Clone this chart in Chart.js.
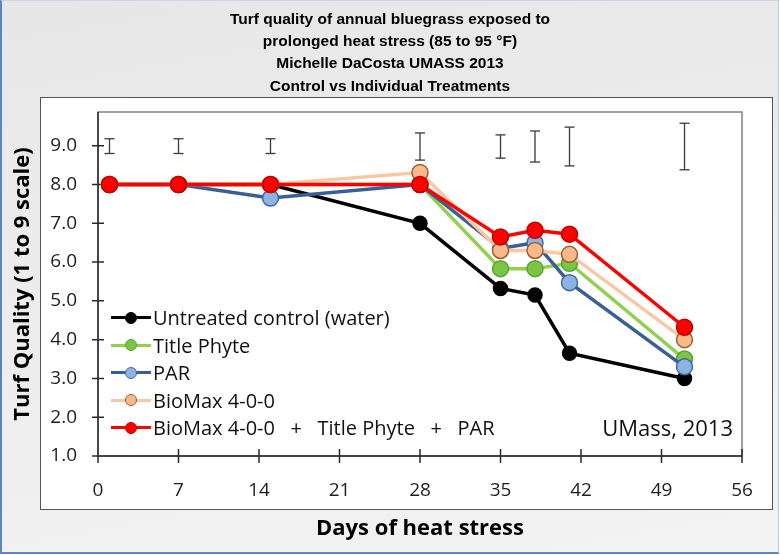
<!DOCTYPE html>
<html>
<head>
<meta charset="utf-8">
<script src="https://cdn.jsdelivr.net/npm/chart.js@4.4.0/dist/chart.umd.min.js"></script>
<style>
  body { margin: 0; }
  #slide {
    position: relative; width: 776px; height: 551px; overflow: hidden;
    background: linear-gradient(170deg, #e7e7e7 0%, #eeeeee 60%, #f3f3f3 100%);
    border-left: 2px solid #5a84c6; border-bottom: 2px solid #5a84c6;
    border-top: 1px solid #c9d6ea; border-right: 1px solid #b8cce4;
  }
  #box {
    position: absolute; left: 38px; top: 96px; width: 731px; height: 411px;
    background: #fff; border: 1.5px solid #555;
  }
  #c { position: absolute; left: -2px; top: -1px; }
  #legend {
    position: absolute; left: 109px; top: 303px;
    font: 20px "Open Sans", sans-serif; color: #111;
  }
  .row { display: flex; align-items: center; height: 27.5px; white-space: pre; }
  .sample { position: relative; width: 40px; height: 14px; margin-right: 2px; }
  .sample .ln { position: absolute; left: 0; right: 0; top: 5.5px; height: 3px; }
  .sample .dot { position: absolute; left: 14px; top: 1px; width: 10px; height: 10px; border-radius: 50%; border: 1px solid; }
  #note {
    position: absolute; right: 45px; top: 411px; line-height: 30px;
    font: 22px "Open Sans", sans-serif; color: #111;
  }
</style>
</head>
<body>
<div id="slide">
  <div id="box"></div>
  <canvas id="c" width="780" height="555"></canvas>
  <div id="legend"></div>
  <div id="note">UMass, 2013</div>
</div>
<script>
// days of heat stress
const days = [1, 7, 15, 28, 35, 38, 41, 51];

// turf quality (1 to 9 scale)
const control = [8.0, 8.0, 8.0, 7.0, 5.32, 5.15, 3.65, 3.0];
const titlePhyte = [8.0, 8.0, 8.0, 8.0, 5.83, 5.83, 5.97, 3.5];
const par = [8.0, 8.0, 7.65, 8.0, 6.35, 6.5, 5.47, 3.3];
const bioMax = [8.0, 8.0, 8.0, 8.31, 6.3, 6.3, 6.2, 4.0];
const combo = [8.0, 8.0, 8.0, 8.0, 6.65, 6.82, 6.72, 4.32];

// LSD bars drawn along the top
const lsdLow = [8.8, 8.8, 8.8, 8.63, 8.68, 8.58, 8.48, 8.38];
const lsdHigh = [9.18, 9.18, 9.18, 9.33, 9.28, 9.38, 9.48, 9.58];

const xTicks = [0, 7, 14, 21, 28, 35, 42, 49, 56];
const yTicks = [1, 2, 3, 4, 5, 6, 7, 8, 9];

const seriesNames = [
  'Untreated control (water)',
  'Title Phyte',
  'PAR',
  'BioMax 4-0-0',
  'BioMax 4-0-0   +   Title Phyte   +   PAR'
];
const seriesValues = [control, titlePhyte, par, bioMax, combo];
const lineColors = ['#000000', '#92d050', '#3a5f94', '#f8c8a6', '#ff0000'];
const fillColors = ['#000000', '#7cc444', '#8db3e2', '#f6b98b', '#ff0000'];
const edgeColors = ['#000000', '#56a630', '#3d69a3', '#9c5f30', '#c00000'];

const toPoints = (vals) => days.map((d, i) => ({ x: d, y: vals[i] }));

const datasets = seriesValues.map((vals, i) => ({
  label: seriesNames[i],
  data: toPoints(vals),
  borderColor: lineColors[i],
  backgroundColor: fillColors[i],
  pointBackgroundColor: fillColors[i],
  pointBorderColor: edgeColors[i],
  borderWidth: 3.5,
  pointRadius: i === 0 ? 7 : 8,
  pointBorderWidth: 1.5,
  order: 5 - i
}));

// error bars: pairs of points split by gaps, caps come from the 'line' point style
const lsdData = [];
days.forEach((d, i) => {
  lsdData.push({ x: d, y: lsdLow[i] }, { x: d, y: lsdHigh[i] }, { x: d, y: null });
});
datasets.push({
  label: 'LSD',
  data: lsdData,
  borderColor: '#3a3a3a',
  borderWidth: 1.3,
  pointStyle: 'line',
  pointRadius: 5,
  pointBorderWidth: 1.3,
  pointBorderColor: '#3a3a3a',
  spanGaps: false,
  order: 10
});

// plot frame + crossing tick marks
const frame = {
  id: 'frame',
  beforeDatasetsDraw(chart) {
    const { ctx, chartArea: a, scales } = chart;
    ctx.save();
    ctx.strokeStyle = '#808080';
    ctx.lineWidth = 1.5;
    ctx.strokeRect(a.left, a.top, a.right - a.left, a.bottom - a.top);
    ctx.strokeStyle = '#2b2b2b';
    ctx.beginPath();
    ctx.moveTo(a.left, a.top); ctx.lineTo(a.left, a.bottom); ctx.lineTo(a.right, a.bottom);
    yTicks.forEach(v => {
      const y = scales.y.getPixelForValue(v);
      ctx.moveTo(a.left - 6, y); ctx.lineTo(a.left + 6, y);
    });
    xTicks.forEach(v => {
      const x = scales.x.getPixelForValue(v);
      ctx.moveTo(x, a.bottom - 7); ctx.lineTo(x, a.bottom + 7);
    });
    ctx.stroke();
    ctx.restore();
  }
};

new Chart(document.getElementById('c'), {
  type: 'line',
  data: { datasets },
  options: {
    responsive: false,
    animation: false,
    layout: { padding: 0 },
    plugins: {
      legend: { display: false },
      tooltip: { enabled: false },
      title: {
        display: true,
        text: [
          'Turf quality of annual bluegrass exposed to',
          'prolonged heat stress (85 to 95 \u00b0F)',
          'Michelle DaCosta UMASS 2013',
          'Control vs Individual Treatments'
        ],
        color: '#000',
        font: { family: '"Liberation Sans Narrow", sans-serif', size: 15.5, weight: 'bold', lineHeight: 1.45 },
        padding: { top: 8, bottom: 14.1 }
      }
    },
    scales: {
      x: {
        type: 'linear',
        min: 0, max: 56,
        grid: { display: false },
        border: { display: false },
        ticks: {
          stepSize: 7, maxRotation: 0, padding: 15,
          color: '#1e1e1e',
          font: { family: '"Open Sans", sans-serif', size: 19 }
        },
        title: {
          display: true,
          text: 'Days of heat stress',
          color: '#000',
          font: { family: '"Open Sans", sans-serif', size: 22, weight: 'bold' },
          padding: { top: 0, bottom: 13 }
        },
        afterFit(s) { s.height = 99; s.paddingLeft = 0; s.paddingRight = 0; }
      },
      y: {
        min: 1, max: 9.87,
        grid: { display: false },
        border: { display: false },
        ticks: {
          stepSize: 1, includeBounds: false, padding: 13,
          color: '#1e1e1e',
          font: { family: '"Open Sans", sans-serif', size: 19 },
          callback: v => v.toFixed(1)
        },
        title: {
          display: true,
          text: 'Turf Quality (1 to 9 scale)',
          color: '#000',
          font: { family: '"Open Sans", sans-serif', size: 22, weight: 'bold' },
          padding: { top: 10, bottom: 0 }
        },
        afterFit(s) { s.width = 98; s.paddingTop = 0; s.paddingBottom = 0; }
      },
      // empty right-hand margin so the title stays centred on the full width
      yRight: {
        position: 'right',
        min: 1, max: 9.87,
        grid: { display: false },
        border: { display: false },
        ticks: { display: false },
        afterFit(s) { s.width = 38; s.paddingTop = 0; s.paddingBottom = 0; }
      }
    }
  },
  plugins: [frame]
});

// legend inside the plot area, built from the same series arrays
const legend = document.getElementById('legend');
seriesNames.forEach((name, i) => {
  const row = document.createElement('div');
  row.className = 'row';
  row.innerHTML = '<div class="sample"><div class="ln" style="background:' + lineColors[i] +
    '"></div><div class="dot" style="background:' + fillColors[i] + ';border-color:' + edgeColors[i] +
    '"></div></div><span>' + name + '</span>';
  legend.appendChild(row);
});
</script>
</body>
</html>
